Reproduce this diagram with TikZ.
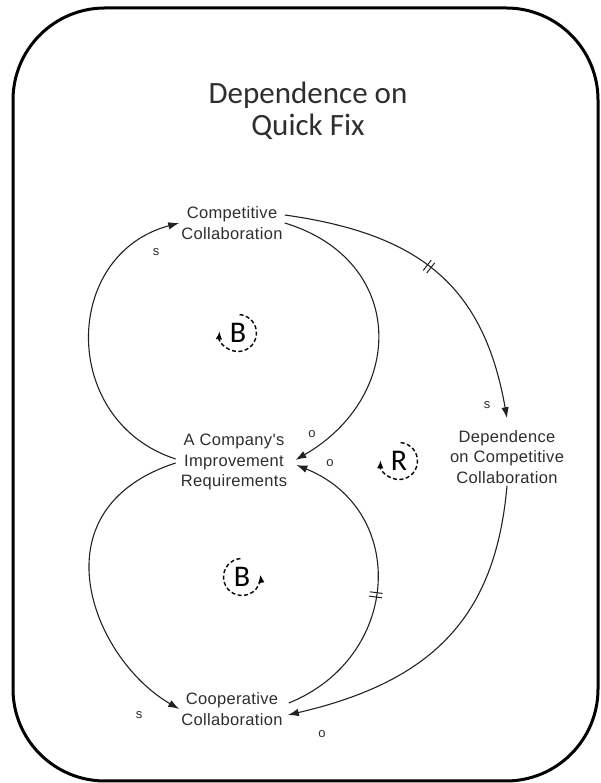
\documentclass[tikz,border=0pt]{standalone}
\usepackage{fontspec}
\setmainfont{Liberation Sans}
\newfontfamily\calib{Carlito}
\newfontfamily\arialsp[LetterSpace=2]{Liberation Sans}
\usetikzlibrary{arrows.meta,decorations.markings}
\definecolor{ink}{HTML}{2E2E2E}
\definecolor{linec}{HTML}{222222}
\begin{document}
\begin{tikzpicture}[x=1pt,y=1pt,
  var/.style={align=center, font=\arialsp\fontsize{16.5}{20.5}\selectfont, text=ink, inner sep=2pt},
  pol/.style={font=\fontsize{13}{13}\selectfont, text=ink, inner sep=0pt},
  link/.style={draw=linec, line width=1.1pt, -{Latex[length=11pt,width=7.5pt]}},
  delaymark/.style={postaction={decorate}, decoration={markings, mark=at position #1 with {\draw[-,linec,line width=1pt] (-2.2pt,-6.5pt)--(-2.2pt,6.5pt) (2.2pt,-6.5pt)--(2.2pt,6.5pt);}}},
  loopmark/.style={draw=black, line width=1.4pt, dash pattern=on 4pt off 2.5pt, -{Latex[length=8pt,width=6.5pt]}},
  looplet/.style={font=\calib\fontsize{30}{30}\selectfont, text=black, inner sep=0pt}
]
\useasboundingbox (0,0) rectangle (601,783);
% frame
\draw[line width=3pt, rounded corners=92pt] (13,2) rectangle (598,775);
% title
\node[font=\calib\fontsize{31}{32}\selectfont, text=ink, align=center] (T) at (308,672) {Dependence on\\Quick Fix};
% variables
\node[var] (CC) at (232,560) {Competitive\\Collaboration};
\node[var] (AIR) at (234,321) {A Company's\\Improvement\\Requirements};
\node[var] (DCC) at (507,326) {Dependence\\on Competitive\\Collaboration};
\node[var] (COOP) at (232,74) {Cooperative\\Collaboration};
% links
\draw[link] ([xshift=-3pt,yshift=3pt]AIR.west) to[out=162,in=195,looseness=1.32] (CC.west);
\draw[link] ([xshift=-3pt,yshift=-1pt]AIR.west) to[out=198,in=150,out looseness=1.56,in looseness=1.04] (COOP.west);
\draw[link] (CC.east) to[out=-17,in=30,looseness=1.38] ([xshift=6pt,yshift=2pt]AIR.east);
\draw[link, delaymark=0.47] ([yshift=8pt]CC.east) to[out=-8,in=100,looseness=1.15] ([yshift=10pt]DCC.north);
\draw[link] (DCC.south) to[out=-95,in=13,out looseness=1.03,in looseness=1.23] ([xshift=3pt,yshift=-6pt]COOP.east);
\draw[link, delaymark=0.47] ([xshift=4pt,yshift=6pt]COOP.east) to[out=22,in=-22,looseness=1.3] ([xshift=7pt,yshift=-3pt]AIR.east);
% polarities
\node[pol] (p1) at (156,531) {s};
\node[pol] (p2) at (487,378) {s};
\node[pol] (p3) at (312,349) {o};
\node[pol] (p4) at (330,320) {o};
\node[pol] (p5) at (139,68) {s};
\node[pol] (p6) at (322,49) {o};
% loop markers
\node[looplet] (B1) at (238,450) {B};
\draw[loopmark] (B1.center) ++(85:18.5) arc[start angle=85,end angle=-185,radius=18.5];
\node[looplet] (R1) at (399,322) {R};
\draw[loopmark] (R1.center) ++(85:18.5) arc[start angle=85,end angle=-182,radius=18.5];
\node[looplet] (B2) at (242,206) {B};
\draw[loopmark] (B2.center) ++(95:18.5) arc[start angle=95,end angle=367,radius=18.5];
\end{tikzpicture}
\end{document}
